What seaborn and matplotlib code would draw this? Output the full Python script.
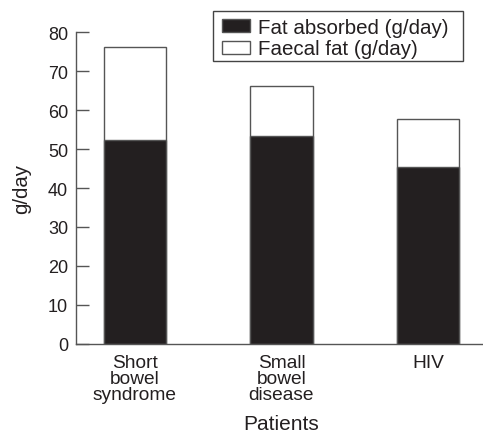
import matplotlib
matplotlib.use("Agg")
import matplotlib.pyplot as plt
import seaborn as sns
import pandas as pd
from matplotlib.patches import Patch, Rectangle

categories = ["Short\nbowel\nsyndrome", "Small\nbowel\ndisease", "HIV"]
fat_absorbed = [52.4, 53.4, 45.3]
faecal_fat = [23.7, 12.7, 12.3]
yticks = [0, 10, 20, 30, 40, 50, 60, 70, 80]

total = [a + b for a, b in zip(fat_absorbed, faecal_fat)]
df = pd.DataFrame({"cat": categories, "absorbed": fat_absorbed, "total": total})

sns.set_theme(style="white")
plt.rcParams["font.family"] = ["Liberation Sans", "DejaVu Sans"]

W, H = 483, 435
fig = plt.figure(figsize=(W / 100, H / 100), dpi=100)
ax = fig.add_axes([0.157, 0.207, 0.843, 0.717])

edge = "#555555"
txt = "#231f20"
sns.barplot(data=df, x="cat", y="total", color="white", edgecolor=edge,
            linewidth=1.0, width=0.425, saturation=1, ax=ax)
sns.barplot(data=df, x="cat", y="absorbed", color="#231f20", edgecolor=edge,
            linewidth=1.0, width=0.425, saturation=1, ax=ax)

ax.set_ylim(0, 80)
ax.set_xlim(-0.403, 2.375)
ax.set_yticks(yticks)
ax.tick_params(axis="y", direction="in", length=9.5, width=1.0, color=edge,
               labelsize=13, pad=5.5, left=True)
ax.tick_params(axis="x", length=0, labelsize=13.8, pad=7)
for lbl in ax.get_xticklabels():
    lbl.set_linespacing(0.95)
    lbl.set_color(txt)
for lbl in ax.get_yticklabels():
    lbl.set_color(txt)

for s in ["top", "right"]:
    ax.spines[s].set_visible(False)
for s in ["left", "bottom"]:
    ax.spines[s].set_color(edge)
    ax.spines[s].set_linewidth(1.0)

ax.set_ylabel("g/day", fontsize=14.7, color=txt)
ax.set_xlabel("Patients", fontsize=15, color=txt)
ax.yaxis.set_label_coords(-0.11, 0.5)
ax.xaxis.set_label_coords(0.505, -0.226)

handles = [Patch(facecolor="#231f20", edgecolor=edge, label="Fat absorbed (g/day)"),
           Patch(facecolor="white", edgecolor=edge, label="Faecal fat (g/day)")]
leg = fig.legend(handles=handles, loc="upper left",
                 bbox_to_anchor=(222 / W, 1 - 19 / H),
                 fontsize=14.8, frameon=False, borderpad=0, labelspacing=0.12,
                 handlelength=1.35, handleheight=0.63, handletextpad=0.38,
                 borderaxespad=0)
for t in leg.get_texts():
    t.set_color(txt)

fig.add_artist(Rectangle((212.7 / W, 1 - 62 / H), 250 / W, 50 / H,
                         transform=fig.transFigure, facecolor="none",
                         edgecolor="#444444", linewidth=1.0))

fig.savefig("out.png", dpi=100)
